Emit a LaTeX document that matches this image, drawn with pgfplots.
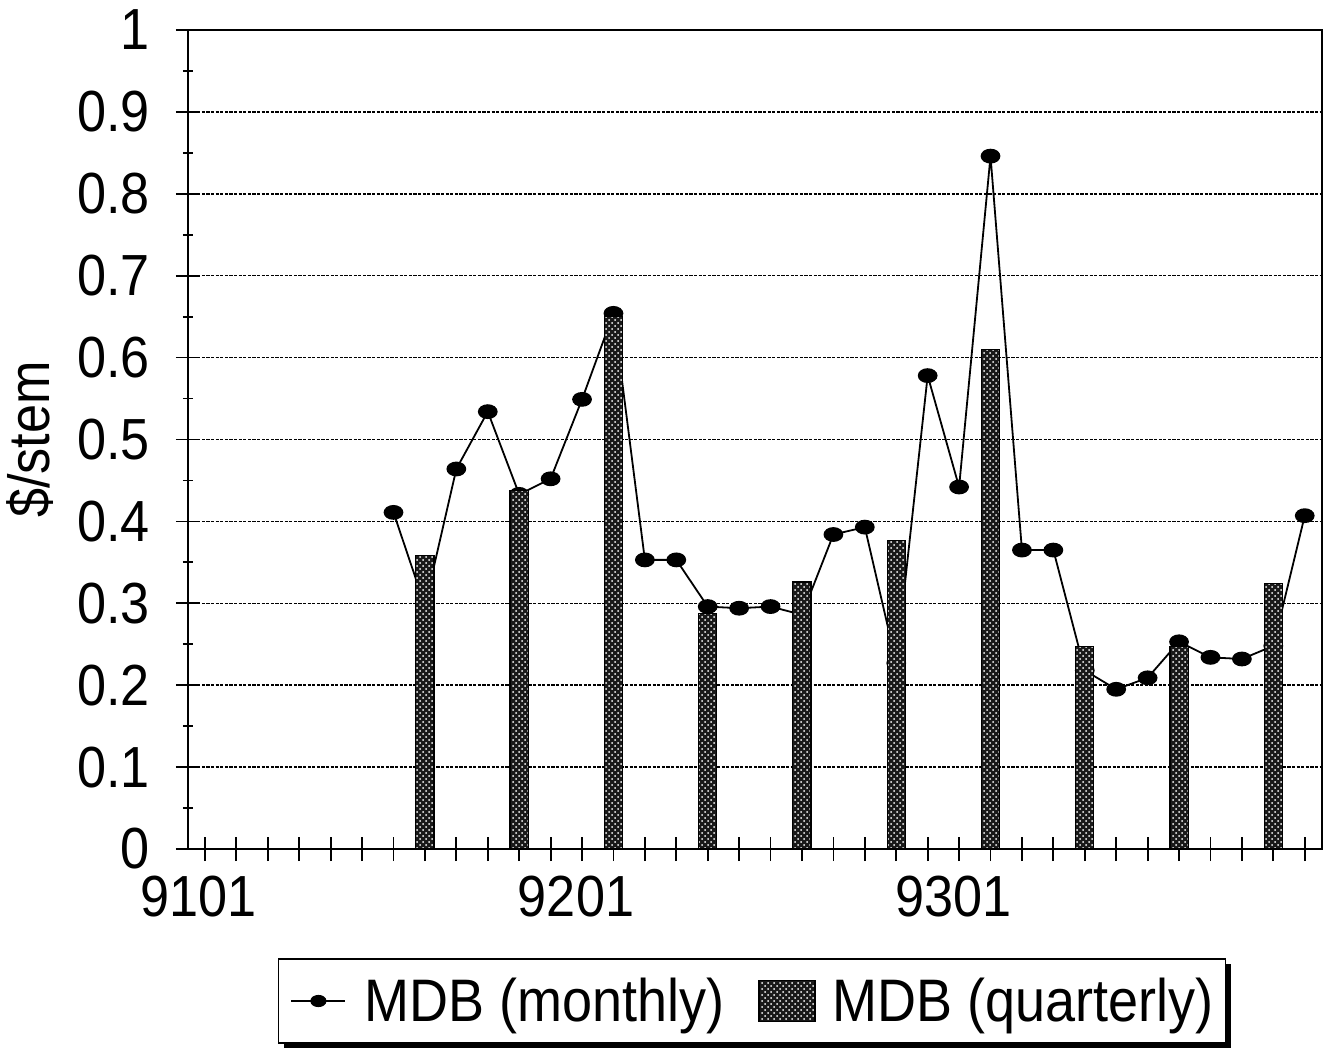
\documentclass[border=0pt]{standalone}
\usepackage{fontspec}
\setmainfont{Liberation Sans}[FakeStretch=0.9]
\usepackage{pgfplots}
\pgfplotsset{compat=1.18}
\usetikzlibrary{patterns,shadows}
\makeatletter
\tikzset{no preactions/.code={\let\tikz@preactions\pgfutil@empty}}
\makeatother
\pgfplotsset{
  monthleg/.style={legend image code/.code={\path[draw=none,fill=none,no preactions] (0pt,0pt) -- (27pt,0pt);\draw[no preactions, ##1, mark repeat=2, mark phase=2, every mark/.append style={scale=0.8}] plot coordinates {(0pt,0pt) (13.5pt,0pt) (27pt,0pt)};}},
  quartleg/.style={legend image code/.code={\draw[no preactions, ##1] (0pt,-10.25pt) rectangle (28pt,10.25pt);}},
}
\begin{document}
\begin{tikzpicture}
\path[use as bounding box] (-94pt,-100pt) rectangle (571.5pt,424.5pt);
\begin{axis}[
  scale only axis, width=567pt, height=409.5pt,
  xmin=-0.54, xmax=35.55, ymin=0, ymax=1,
  clip marker paths=true,
  axis line style={black, line width=1pt},
  tick style={black, line width=0.9pt},
  tick align=center, tick pos=left,
  major tick length=12pt, minor tick length=5pt,
  xtick={0,...,35},
  xticklabels={9101,,,,,,,,,,,,9201,,,,,,,,,,,,9301},
  ytick={0,0.1,0.2,0.3,0.4,0.5,0.6,0.7,0.8,0.9,1},
  yticklabels={0,0.1,0.2,0.3,0.4,0.5,0.6,0.7,0.8,0.9,1},
  minor y tick num=1,
  /pgf/number format/assume math mode=true,
  tick label style={font=\fontsize{29}{34}\selectfont, inner sep=0pt},
  xticklabel style={xshift=-3pt, yshift=-7.5pt},
  yticklabel style={xshift=-13pt},
  ymajorgrids,
  major grid style={black, line width=0.8pt, dash pattern=on 1.6pt off 0.7pt},
  ylabel={\$/stem},
  ylabel style={at={(axis description cs:-0.1393,0.5)}, anchor=center, font=\fontsize{29}{34}\selectfont},
  legend columns=2,
  legend cell align=left,
  legend style={at={(axis description cs:0.4974,-0.1856)}, anchor=center,
    draw=black, line width=0.8pt, font=\fontsize{30}{35}\selectfont,
    inner xsep=6pt, inner ysep=7.5pt,
    nodes={inner xsep=0pt},
    /tikz/column 1/.style={column sep=9pt},
    /tikz/column 2/.style={column sep=17pt},
    /tikz/column 3/.style={column sep=8.5pt},
    drop shadow={shadow xshift=2.5pt, shadow yshift=-2.5pt, opacity=1, fill=black}},
]
\addplot[black, line width=0.9pt, mark=*, mark size=3.25pt,
  mark options={xscale=1.38, solid, fill=black}, monthleg]
coordinates {
(6,0.411) (7,0.297) (8,0.464) (9,0.534) (10,0.433) (11,0.452) (12,0.549)
(13,0.654) (14,0.353) (15,0.353) (16,0.296) (17,0.294) (18,0.296) (19,0.286)
(20,0.384) (21,0.393) (22,0.227) (23,0.578) (24,0.442) (25,0.846) (26,0.365)
(27,0.365) (28,0.218) (29,0.195) (30,0.209) (31,0.253) (32,0.234) (33,0.232)
(34,0.248) (35,0.407)};
\addlegendentry{MDB (monthly)}
\addplot[ybar, bar width=0.58, draw=black, line width=0.6pt, fill=black!90,
  postaction={pattern=crosshatch dots, pattern color=white}, quartleg]
coordinates {
(7,0.358) (10,0.438) (13,0.650) (16,0.288) (19,0.326) (22,0.377)
(25,0.610) (28,0.247) (31,0.247) (34,0.324)};
\addlegendentry{MDB (quarterly)}
\end{axis}
\end{tikzpicture}
\end{document}
